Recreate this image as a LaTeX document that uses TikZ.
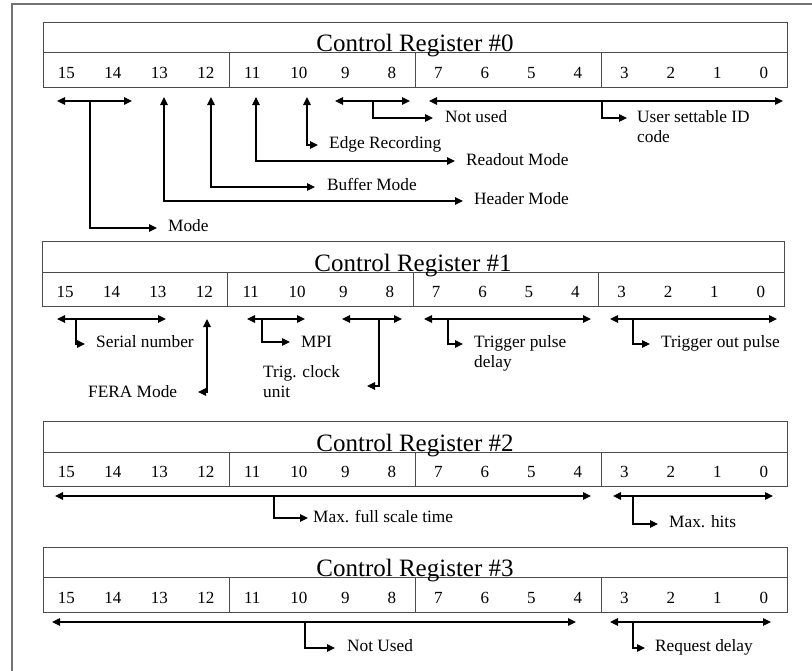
\documentclass[tikz,border=0pt]{standalone}
\usepackage{fontspec}
\setmainfont{Liberation Serif}
\usetikzlibrary{arrows.meta}
\begin{document}
\begin{tikzpicture}[x=1pt,y=-1pt,
  >={Triangle[length=8pt,width=7.5pt]},
  conn/.style={line width=1.1pt, black},
  boxline/.style={draw=black!70, line width=1pt},
  lbl/.style={font=\fontsize{17.3}{20}\selectfont, inner sep=0pt, anchor=base west, align=left},
  num/.style={font=\fontsize{17}{20}\selectfont, inner sep=0pt, anchor=base},
  ttl/.style={font=\fontsize{25}{30}\selectfont, inner sep=0pt, anchor=base}]
\useasboundingbox (0,0) rectangle (812,670);
\draw[draw=black!55, line width=2pt] (12,4) rectangle (822,682);
% registers
\foreach \t/\d/\b/\l/\r/\n in {22/52/87/43/787/0, 241/272/306/42/784/1, 421/452/486/43/787/2, 547/577/612/43/787/3} {
  \draw[boxline] (\l,\t) rectangle (\r,\b);
  \draw[boxline] (\l,\d) -- (\r,\d);
  \foreach \k in {1,2,3} {
    \draw[boxline] ({\l+\k*(\r-\l)/4},\d) -- ({\l+\k*(\r-\l)/4},\b);
  }
  \node[ttl] (title\n) at ({(\l+\r)/2},{\d-1}) {Control Register \#\n};
  \foreach \i in {0,...,15} {
    \node[num] (bit\n-\i) at ({\l+(15-\i+0.5)*(\r-\l)/16},{\b-8.5}) {\i};
  }
}
% register 0
\draw[conn,<->] (57,101) -- (132,101);
\draw[conn,->] (90,101) |- (157,228);
\node[lbl] (mode) at (168,231) {Mode};
\draw[conn,<->] (164,97) |- (463,201);
\node[lbl] (hdr) at (474,204) {Header Mode};
\draw[conn,<->] (211,97) |- (315,187);
\node[lbl] (buf) at (327,190) {Buffer Mode};
\draw[conn,<->] (256,97) |- (455,161);
\node[lbl] (rdo) at (466,165) {Readout Mode};
\draw[conn,<->] (307,97) |- (318,145);
\node[lbl] (edge) at (329,148) {Edge Recording};
\draw[conn,<->] (335,101) -- (410,101);
\draw[conn,->] (373,101) |- (433,118);
\node[lbl] (nu0) at (445,122) {Not used};
\draw[conn,<->] (429,101) -- (783,101);
\draw[conn,->] (602,101) |- (627,118);
\node[lbl] (uid) at (637,142) {User settable ID\\code};
% register 1
\draw[conn,<->] (57,319) -- (166,319);
\draw[conn,->] (76,319) |- (85,344);
\node[lbl] (ser) at (96,347) {Serial number};
\draw[conn,<->] (207,319) |- (198,392);
\node[lbl] (fera) at (88,397) {FERA Mode};
\draw[conn,<->] (247,319) -- (305,319);
\draw[conn,->] (262,319) |- (290,342);
\node[lbl] (mpi) at (301,347) {MPI};
\draw[conn,<->] (342,319) -- (402,319);
\draw[conn,->] (379,319) |- (367,386);
\node[lbl] (tcu) at (263,397) {Trig. clock\\unit};
\draw[conn,<->] (424,319) -- (591,319);
\draw[conn,->] (448,319) |- (463,344);
\node[lbl] (tpd) at (474,367) {Trigger pulse\\delay};
\draw[conn,<->] (610,319) -- (777,319);
\draw[conn,->] (633,319) |- (650,344);
\node[lbl] (tout) at (661,347) {Trigger out pulse};
% register 2
\draw[conn,<->] (55,496) -- (591,496);
\draw[conn,->] (274,496) |- (308,518);
\node[lbl] (mfst) at (313,522) {Max. full scale time};
\draw[conn,<->] (613,496) -- (773,496);
\draw[conn,->] (633,496) |- (658,524);
\node[lbl] (mh) at (669,527) {Max. hits};
% register 3
\draw[conn,<->] (52,622) -- (576,622);
\draw[conn,->] (305,622) |- (335,648);
\node[lbl] (nu3) at (347,651) {Not Used};
\draw[conn,<->] (610,622) -- (771,622);
\draw[conn,->] (633,622) |- (645,648);
\node[lbl] (rd) at (655,651) {Request delay};
\end{tikzpicture}
\end{document}
